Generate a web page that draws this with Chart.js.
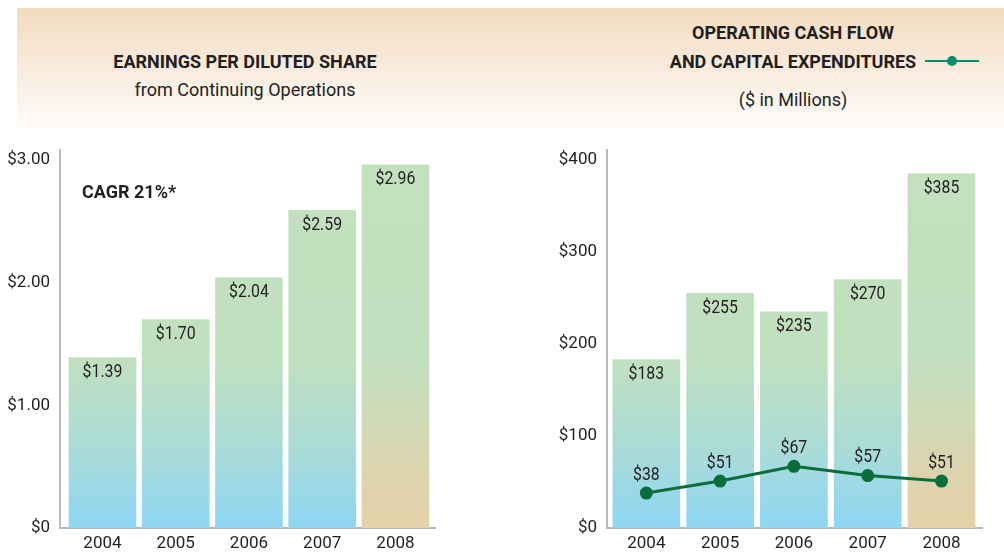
<!DOCTYPE html>
<html>
<head>
<meta charset="utf-8">
<script src="https://cdn.jsdelivr.net/npm/chart.js@4"></script>
<style>
  body { margin: 0; width: 1004px; height: 553px; background: #fff; position: relative; overflow: hidden;
         font-family: Roboto, 'Liberation Sans', sans-serif; color: #231f20; }
  .band { position: absolute; left: 17px; top: 8px; width: 987px; height: 120px;
          background: linear-gradient(#f2dcc0, #f8ebdc 50%, #fefcfa); }
  .txt { position: absolute; white-space: nowrap; transform: translate(-50%, -50%); font-size: 18px; }
  .b { font-weight: bold; }
  .legline { position: absolute; left: 925px; top: 60px; width: 54px; height: 2px; background: #0a8c6c; }
  .legdot { position: absolute; left: 947px; top: 56px; width: 10px; height: 10px; border-radius: 50%; background: #0a8c6c; }
  .wrap { position: absolute; top: 130px; height: 423px; }
</style>
</head>
<body>
<div class="band"></div>
<div class="txt b" style="left:245px; top:61px;">EARNINGS PER DILUTED SHARE</div>
<div class="txt" style="left:245px; top:89px;">from Continuing Operations</div>
<div class="txt b" style="left:793px; top:32px;">OPERATING CASH FLOW</div>
<div class="txt b" style="left:793px; top:61px;">AND CAPITAL EXPENDITURES</div>
<div class="legline"></div><div class="legdot"></div>
<div class="txt" style="left:793px; top:99px;">($ in Millions)</div>

<div class="wrap" style="left:0; width:450px;"><canvas id="epsChart"></canvas></div>
<div class="wrap" style="left:540px; width:464px;"><canvas id="cashChart"></canvas></div>

<script>
// Data
const years = [2004, 2005, 2006, 2007, 2008];
const epsValues = [1.39, 1.70, 2.04, 2.59, 2.96];
const epsTicks = [0, 1, 2, 3];
const cashFlowValues = [183, 255, 235, 270, 385];
const capexValues = [38, 51, 67, 57, 51];
const cashTicks = [0, 100, 200, 300, 400];

const FONT = "Roboto, 'Liberation Sans', sans-serif";
Chart.defaults.font.family = FONT;
Chart.defaults.font.size = 17;
Chart.defaults.color = '#231f20';

// Bar fill: green to blue, last year green to tan
function barFill(ctx) {
  const chart = ctx.chart;
  const area = chart.chartArea;
  if (!area) return '#c3e1bd';
  const g = chart.ctx.createLinearGradient(0, area.top, 0, area.bottom);
  g.addColorStop(0, '#c3e1bd');
  g.addColorStop(0.55, '#c1e0bf');
  if (ctx.dataIndex === years.length - 1) {
    g.addColorStop(0.85, '#dcd4ae');
    g.addColorStop(1, '#e4d1a9');
  } else {
    g.addColorStop(0.8, '#a9dbd8');
    g.addColorStop(1, '#8ed6f4');
  }
  return g;
}

// draw condensed text (the original face is a narrow grotesque)
function narrowText(c, text, x, y, sx) {
  c.save();
  c.translate(x, y);
  c.scale(sx, 1);
  c.fillText(text, 0, 0);
  c.restore();
}

// Value labels drawn from the dataset elements
const valueLabels = {
  id: 'valueLabels',
  afterDatasetsDraw(chart, args, opts) {
    const c = chart.ctx;
    c.save();
    c.font = '18px ' + FONT;
    c.fillStyle = '#231f20';
    c.textAlign = 'center';
    c.textBaseline = 'middle';
    chart.data.datasets.forEach((ds, i) => {
      const meta = chart.getDatasetMeta(i);
      meta.data.forEach((el, j) => {
        const v = ds.data[j].y;
        const dy = ds.type === 'line' ? -18 : 15;
        narrowText(c, ds.fmt(v), el.x, el.y + dy, 0.88);
      });
    });
    if (opts.note) {
      c.font = 'bold 18px ' + FONT;
      c.textAlign = 'left';
      narrowText(c, opts.note, chart.chartArea.left + 22, chart.chartArea.top + 43, 1);
    }
    c.restore();
  }
};

function xScale(min, max) {
  return {
    type: 'linear', min: min, max: max, offset: false,
    grid: { display: false, drawTicks: false, offset: false },
    border: { display: true, color: '#b9b9b9', width: 2 },
    ticks: { stepSize: 1, includeBounds: false, padding: 6, callback: v => String(v) },
    afterFit: s => { s.height = 25; }
  };
}

function yScale(max, ticks, fmt, width) {
  return {
    min: 0, max: max,
    grid: { display: false, drawTicks: false },
    border: { display: true, color: '#b9b9b9', width: 2 },
    afterBuildTicks: s => { s.ticks = ticks.map(v => ({ value: v })); },
    ticks: { padding: 10, callback: fmt },
    afterFit: s => { s.width = width; }
  };
}

const commonOpts = {
  responsive: true,
  maintainAspectRatio: false,
  animation: false,
  plugins: { legend: { display: false }, tooltip: { enabled: false } }
};

new Chart(document.getElementById('epsChart'), {
  type: 'bar',
  data: {
    datasets: [{
      data: years.map((y, i) => ({ x: y, y: epsValues[i] })),
      backgroundColor: barFill,
      barThickness: 67,
      fmt: v => '$' + v.toFixed(2)
    }]
  },
  options: {
    ...commonOpts,
    layout: { padding: { left: 0, right: 15, top: 13, bottom: 0 } },
    plugins: { ...commonOpts.plugins, valueLabels: { note: 'CAGR 21%*' } },
    scales: {
      x: xScale(2003.42, 2008.54),
      y: yScale(3.08, epsTicks, v => v === 0 ? '$0' : '$' + v.toFixed(2), 60)
    }
  },
  plugins: [valueLabels]
});

new Chart(document.getElementById('cashChart'), {
  type: 'bar',
  data: {
    datasets: [{
      type: 'line',
      data: years.map((y, i) => ({ x: y, y: capexValues[i] })),
      borderColor: '#0b6d3c',
      backgroundColor: '#0b6d3c',
      borderWidth: 3,
      pointRadius: 5,
      pointBackgroundColor: '#0b6d3c',
      tension: 0,
      order: 0,
      fmt: v => '$' + v
    }, {
      type: 'bar',
      data: years.map((y, i) => ({ x: y, y: cashFlowValues[i] })),
      backgroundColor: barFill,
      barThickness: 67,
      order: 1,
      fmt: v => '$' + v
    }]
  },
  options: {
    ...commonOpts,
    layout: { padding: { left: 0, right: 22, top: 13, bottom: 0 } },
    plugins: { ...commonOpts.plugins, valueLabels: {} },
    scales: {
      x: xScale(2003.467, 2008.549),
      y: yScale(410.7, cashTicks, v => '$' + v, 67)
    }
  },
  plugins: [valueLabels]
});
</script>
</body>
</html>
